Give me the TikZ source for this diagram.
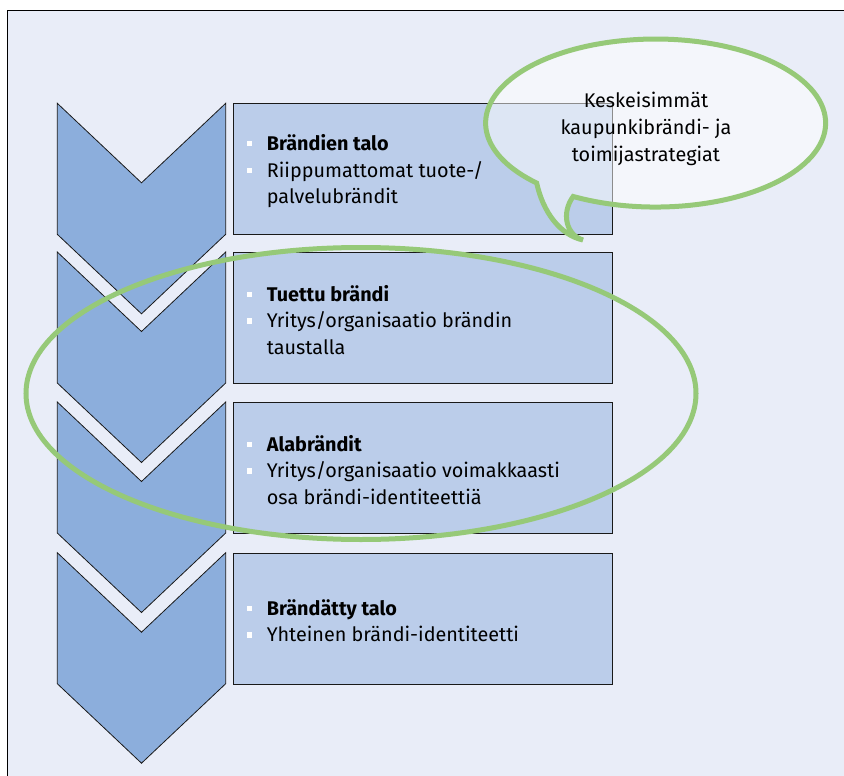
\documentclass[tikz,border=0pt]{standalone}
\usepackage{fontspec}
\setmainfont{Fira Sans}
\usetikzlibrary{shapes.geometric}

\definecolor{panelbg}{RGB}{233,237,248}
\definecolor{chevfill}{RGB}{140,174,220}
\definecolor{boxfill}{RGB}{187,205,234}
\definecolor{ringgreen}{RGB}{150,201,120}
\definecolor{edge}{RGB}{25,25,25}

\newcommand{\bul}{\makebox[20pt][l]{\textcolor{white}{\rule[4pt]{5.5pt}{5.5pt}}}}
\newcommand{\cont}{\hspace*{20pt}}

\tikzset{
  chevst/.style={fill=chevfill, draw=edge, line width=0.8pt, line join=miter},
  stagebox/.style={rectangle, fill=boxfill, draw=edge, line width=0.9pt,
    minimum width=378.4pt, minimum height=131pt, inner sep=0pt, anchor=north west},
  stagetext/.style={anchor=west, align=left, inner sep=0pt,
    font=\fontsize{19.8}{26.7}\selectfont},
  ring/.style={ellipse, draw=ringgreen, line width=5pt, inner sep=0pt},
  bubble/.style={draw=ringgreen, line width=5pt, fill=white, fill opacity=0.5},
}

\begin{document}
\begin{tikzpicture}[x=1pt,y=-1pt]
\useasboundingbox (0,0) rectangle (844,776);
\fill[white] (0,0) rectangle (844,776);
% framed panel
\draw[fill=panelbg, draw=black, line width=1.2pt] (7.5,790) -- (7.5,10.5) -- (860,10.5) -- (860,790) -- cycle;

% chevrons
\foreach \t in {103.3,252,402,552.7} {
  \draw[chevst] (57.3,\t) -- (141.5,\t+79.5) -- (225.7,\t) -- (225.7,\t+131)
    -- (141.5,\t+210.5) -- (57.3,\t+131) -- cycle;
}

% stage boxes
\node[stagebox] (box1) at (233.3,103.3) {};
\node[stagebox] (box2) at (233.3,252) {};
\node[stagebox] (box3) at (233.3,402) {};
\node[stagebox] (box4) at (233.3,552.7) {};

\node[stagetext] (text1) at ([xshift=13.4pt,yshift=-2pt]box1.west)
  {\bul\textbf{Brändien talo}\\ \bul Riippumattomat tuote-/\\ \cont palvelubrändit};
\node[stagetext] (text2) at ([xshift=13.4pt,yshift=-2pt]box2.west)
  {\bul\textbf{Tuettu brändi}\\ \bul Yritys/organisaatio brändin\\ \cont taustalla};
\node[stagetext] (text3) at ([xshift=13.4pt,yshift=-2pt]box3.west)
  {\bul\textbf{Alabrändit}\\ \bul Yritys/organisaatio voimakkaasti\\ \cont osa brändi-identiteettiä};
\node[stagetext] (text4) at ([xshift=13.4pt,yshift=-2pt]box4.west)
  {\bul\textbf{Brändätty talo}\\ \bul Yhteinen brändi-identiteetti};

% highlight ring around the middle stages
\node[ring, minimum width=670pt, minimum height=292pt] (ring) at (361,393.5) {};

% speech bubble
\draw[bubble] (583,240) .. controls (566,235) and (561,213) .. (573.2,196.5)
  arc[start angle=119, end angle=-225.6, x radius=170, y radius=84]
  .. controls (543,212) and (560,235) .. (583,240) -- cycle;
\node[align=center, inner sep=0pt, font=\fontsize{19.8}{26.7}\selectfont] (calltext)
  at (646,129) {Keskeisimmät\\kaupunkibrändi- ja\\toimijastrategiat};
\end{tikzpicture}
\end{document}
